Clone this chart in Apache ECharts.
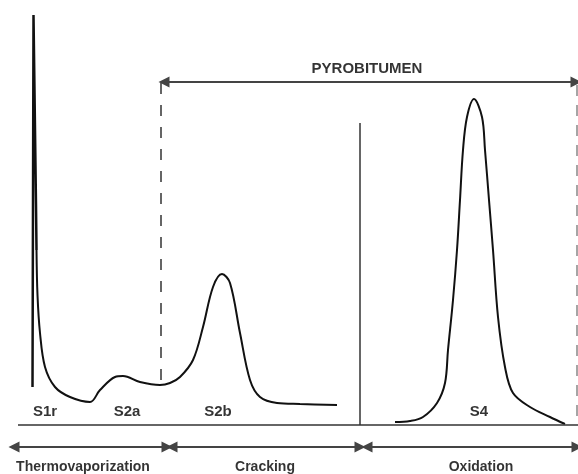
<!DOCTYPE html>
<html>
<head>
<meta charset="utf-8">
<script src="https://cdn.jsdelivr.net/npm/echarts@6/dist/echarts.min.js"></script>
<style>html,body{margin:0;padding:0;background:#fff}#c{width:578px;height:474px}</style>
</head>
<body>
<div id="c"></div>
<script>
// Signal trace (arbitrary units: x = run time, y = detector signal above baseline)
const spikeX = [32.5, 33.5, 36, 36.5];
const spikeY = [38, 410, 220, 175];
const traceX = [36.5, 37.5, 40, 45, 55, 70, 90, 100, 115, 123, 140, 160, 170, 180, 193, 203, 213, 222, 230, 240, 250, 260, 277, 300, 337];
const traceY = [175, 130, 92, 58, 38, 28, 23, 35, 48, 49, 43, 40, 42, 48, 65, 98, 138, 151, 142, 92, 45, 28, 22, 21, 20];
const s4X = [395, 410, 423, 437, 445, 448, 453, 457, 460, 463, 467, 474, 482, 485, 489, 493, 498, 505, 513, 530, 550, 565];
const s4Y = [3, 4, 8, 22, 42, 75, 125, 175, 225, 275, 308, 326, 308, 275, 225, 175, 108, 58, 32, 18, 8, 1];

// Reference lines
const baseline = [18, 578];          // x extent at signal 0
const switchX = 360, switchTop = 302; // oven switch (pyrolysis -> oxidation)
const pyroStartX = 161, pyroEndX = 577, pyroY = 343, dashBottom = 40;

// Stage ranges (bottom arrows)
const stageNames = ['Thermovaporization', 'Cracking', 'Oxidation'];
const stageFrom = [14, 172, 367];
const stageTo = [167, 360, 577];
const stageLabelX = [83, 265, 481];
const stageArrowY = -22, stageLabelY = -42;

// Peak labels
const peakNames = ['S1r', 'S2a', 'S2b', 'S4'];
const peakX = [45, 127, 218, 479];
const peakLabelY = 13;
const pyroLabel = 'PYROBITUMEN', pyroLabelX = 367, pyroLabelY = 356;

const zip = (a, b) => a.map((v, i) => [v, b[i]]);
const FONT = 'Liberation Sans';

const chart = echarts.init(document.getElementById('c'), null, {renderer: 'canvas'});
chart.setOption({
  animation: false,
  backgroundColor: '#fff',
  grid: {left: 0, right: 0, top: 0, bottom: 0},
  xAxis: {type: 'value', min: 0, max: 578, show: false},
  yAxis: {type: 'value', min: -49, max: 425, show: false},
  series: [
    {
      type: 'line', data: zip(spikeX, spikeY), symbol: 'none', smooth: false,
      lineStyle: {color: '#111', width: 2.5}
    },
    {
      type: 'line', data: zip(traceX, traceY), symbol: 'none', smooth: 0.35,
      lineStyle: {color: '#111', width: 2}
    },
    {
      type: 'line', data: zip(s4X, s4Y), symbol: 'none', smooth: 0.35,
      lineStyle: {color: '#111', width: 2}
    },
    {
      type: 'line', data: [[baseline[0], 0], [baseline[1], 0]], symbol: 'none',
      lineStyle: {color: '#333', width: 1.5},
      markLine: {
        silent: true, symbol: 'none',
        label: {show: false},
        data: [
          [{coord: [switchX, 0]}, {coord: [switchX, switchTop]}],
          [{coord: [pyroStartX, pyroY - 1], lineStyle: {type: [11, 11], color: '#333', width: 1.5}}, {coord: [pyroStartX, dashBottom]}],
          [{coord: [pyroEndX, pyroY - 3], lineStyle: {type: [11, 9], color: '#888', width: 1.5}}, {coord: [pyroEndX, 0]}]
        ],
        lineStyle: {color: '#333', width: 1.5, type: 'solid'}
      }
    },
    {
      type: 'line', data: [], symbol: 'none',
      markLine: {
        silent: true, symbol: ['triangle', 'triangle'], symbolSize: [11, 11],
        label: {show: false},
        lineStyle: {color: '#444', width: 2, type: 'solid'},
        data: [[{coord: [pyroStartX + 3, pyroY]}, {coord: [pyroEndX - 1, pyroY]}]].concat(
          stageFrom.map((f, i) => [{coord: [f, stageArrowY]}, {coord: [stageTo[i], stageArrowY]}])
        )
      }
    },
    {
      type: 'scatter', symbolSize: 0, silent: true,
      label: {show: true, position: 'inside', formatter: '{b}', color: '#000', fontFamily: FONT, fontWeight: 'bold', fontSize: 14},
      data: peakNames.map((n, i) => ({name: n, value: [peakX[i], peakLabelY], label: {fontSize: 15}}))
        .concat(stageNames.map((n, i) => ({name: n, value: [stageLabelX[i], stageLabelY], label: {fontSize: 14}})))
        .concat([{name: pyroLabel, value: [pyroLabelX, pyroLabelY], label: {fontSize: 15}}])
    }
  ]
});
</script>
</body>
</html>
